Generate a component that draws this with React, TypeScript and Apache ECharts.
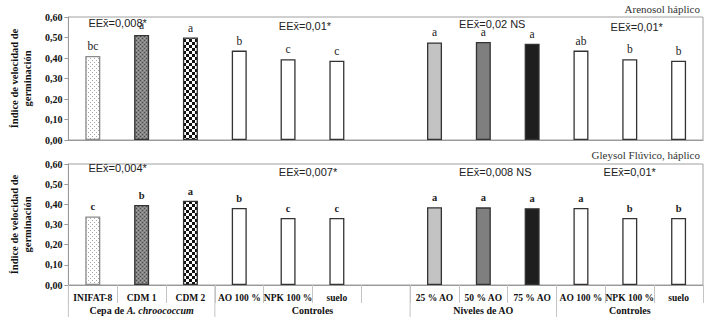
import React, { useEffect, useRef } from 'react';
import * as echarts from 'echarts';

const categories = ['INIFAT-8', 'CDM 1', 'CDM 2', 'AO 100 %', 'NPK 100 %', 'suelo', '', '25 % AO', '50 % AO', '75 % AO', 'AO 100 %', 'NPK 100 %', 'suelo'];
const arenosolValues = [0.41, 0.512, 0.5, 0.436, 0.394, 0.387, null, 0.476, 0.478, 0.47, 0.436, 0.394, 0.387];
const gleysolValues = [0.34, 0.397, 0.418, 0.382, 0.332, 0.332, null, 0.386, 0.385, 0.381, 0.382, 0.332, 0.332];
const arenosolLetters = ['bc', 'a', 'a', 'b', 'c', 'c', '', 'a', 'a', 'a', 'ab', 'b', 'b'];
const gleysolLetters = ['c', 'b', 'a', 'b', 'c', 'c', '', 'a', 'a', 'a', 'a', 'b', 'b'];
const arenosolNotes = ['EEx̄=0,008*', 'EEx̄=0,01*', 'EEx̄=0,02 NS', 'EEx̄=0,01*'];
const gleysolNotes = ['EEx̄=0,004*', 'EEx̄=0,007*', 'EEx̄=0,008 NS', 'EEx̄=0,01*'];
const groupLabels = ['{n|Cepa de }{i|A. chroococcum}', '{n|Controles}', '{n|Niveles de AO}', '{n|Controles}'];
const groupStarts = [0, 3, 7, 10];
const groupEnds = [2, 6, 9, 12];
const fillKinds = ['dots', 'grayDots', 'checker', 'white', 'white', 'white', 'none', 'light', 'mid', 'dark', 'white', 'white', 'white'];
const panelTitles = ['Arenosol háplico', 'Gleysol Flúvico, háplico'];
const yMin = 0;
const yMax = 0.6;
const yStep = 0.1;

const SERIF = '"Liberation Serif", "Times New Roman", serif';
const SANS = '"Liberation Sans", "Open Sans", sans-serif';

function makeCanvas(w: number, h: number, draw: (ctx: CanvasRenderingContext2D) => void) {
  const c = document.createElement('canvas');
  c.width = w;
  c.height = h;
  const ctx = c.getContext('2d')!;
  draw(ctx);
  return c;
}

function buildFill(kind: string): any {
  if (kind === 'dots') {
    const c = makeCanvas(4, 4, (ctx) => {
      ctx.fillStyle = '#ffffff';
      ctx.fillRect(0, 0, 4, 4);
      ctx.fillStyle = '#a8a8a8';
      ctx.fillRect(0, 0, 1, 1);
      ctx.fillRect(2, 2, 1, 1);
    });
    return { image: c, repeat: 'repeat', imageWidth: 4, imageHeight: 4 };
  }
  if (kind === 'grayDots') {
    const c = makeCanvas(4, 4, (ctx) => {
      ctx.fillStyle = '#858585';
      ctx.fillRect(0, 0, 4, 4);
      ctx.fillStyle = '#4a4a4a';
      ctx.fillRect(0, 0, 1, 1);
      ctx.fillRect(2, 2, 1, 1);
      ctx.fillStyle = '#a5a5a5';
      ctx.fillRect(2, 0, 1, 1);
      ctx.fillRect(0, 2, 1, 1);
    });
    return { image: c, repeat: 'repeat', imageWidth: 4, imageHeight: 4 };
  }
  if (kind === 'checker') {
    const c = makeCanvas(6, 6, (ctx) => {
      ctx.fillStyle = '#ffffff';
      ctx.fillRect(0, 0, 6, 6);
      ctx.fillStyle = '#111111';
      ctx.fillRect(0, 0, 3, 3);
      ctx.fillRect(3, 3, 3, 3);
    });
    return { image: c, repeat: 'repeat', imageWidth: 6, imageHeight: 6 };
  }
  if (kind === 'light') return '#c3c3c3';
  if (kind === 'mid') return '#7f7f7f';
  if (kind === 'dark') return '#1e1e1e';
  return '#ffffff';
}

const yLabel = (v: number) => v.toFixed(2).replace('.', ',');

export default function App() {
  const ref = useRef<HTMLDivElement>(null);

  useEffect(() => {
    if (!ref.current) return;
    const chart = echarts.init(ref.current, undefined, { renderer: 'svg' });

    const fills = fillKinds.map(buildFill);
    const makeData = (values: (number | null)[], letters: string[]) =>
      values.map((v, i) => ({
        value: v,
        letter: letters[i],
        itemStyle: {
          color: fills[i],
          borderColor: fillKinds[i] === 'dots' ? '#8a8a8a' : '#333333',
          borderWidth: 1.3,
        },
      }));

    const grids = [
      { left: 53, right: 6, top: 17, height: 123 },
      { left: 53, right: 6, top: 164, height: 121 },
    ];

    const yAxisBase = (gridIndex: number) => ({
      type: 'value',
      gridIndex,
      min: yMin,
      max: yMax,
      interval: yStep,
      name: 'Índice de velocidad de\ngerminación',
      nameLocation: 'middle',
      nameGap: 24,
      nameTextStyle: { fontFamily: SERIF, fontWeight: 'bold', fontSize: 10.5, color: '#111', lineHeight: 13 },
      axisLine: { show: true, lineStyle: { color: '#9a9a9a' } },
      axisTick: { show: true, length: 4, lineStyle: { color: '#9a9a9a' } },
      splitLine: { show: false },
      axisLabel: { formatter: yLabel, fontFamily: SERIF, fontWeight: 'bold', fontSize: 10, color: '#111', margin: 6 },
    });

    const option: any = {
      animation: false,
      backgroundColor: '#ffffff',
      grid: grids.map((g) => ({ ...g, show: true, borderColor: '#a0a0a0', borderWidth: 1, backgroundColor: 'transparent' })),
      xAxis: [
        {
          type: 'category',
          gridIndex: 0,
          data: categories,
          axisLine: { lineStyle: { color: '#9a9a9a' } },
          axisTick: { show: false },
          axisLabel: { show: false },
        },
        {
          type: 'category',
          gridIndex: 1,
          data: categories,
          axisLine: { lineStyle: { color: '#9a9a9a' } },
          axisTick: { show: true, interval: 0, length: 18, lineStyle: { color: '#c4c4c4' } },
          axisLabel: { interval: 0, fontFamily: SERIF, fontWeight: 'bold', fontSize: 9.5, color: '#111', margin: 8 },
        },
      ],
      yAxis: [yAxisBase(0), yAxisBase(1)],
      title: [
        { text: panelTitles[0], right: 9, top: 3, padding: 0, textStyle: { fontFamily: SERIF, fontWeight: 'normal', fontSize: 11, color: '#333' } },
        { text: panelTitles[1], right: 9, top: 149, padding: 0, textStyle: { fontFamily: SERIF, fontWeight: 'normal', fontSize: 11, color: '#333' } },
      ],
      series: [
        {
          type: 'bar',
          xAxisIndex: 0,
          yAxisIndex: 0,
          barWidth: 15,
          data: makeData(arenosolValues, arenosolLetters),
          label: {
            show: true,
            position: 'top',
            distance: 4,
            fontFamily: SERIF,
            fontSize: 11.5,
            color: '#222',
            formatter: (p: any) => p.data.letter,
          },
        },
        {
          type: 'bar',
          xAxisIndex: 1,
          yAxisIndex: 1,
          barWidth: 15,
          data: makeData(gleysolValues, gleysolLetters),
          label: {
            show: true,
            position: 'top',
            distance: 4,
            fontFamily: SERIF,
            fontWeight: 'bold',
            fontSize: 10.5,
            color: '#222',
            formatter: (p: any) => p.data.letter,
          },
        },
      ],
    };
    chart.setOption(option);

    // annotations and group separators, positioned via the axis scale
    const px = (i: number) => chart.convertToPixel({ xAxisIndex: 1 }, i) as number;
    const band = px(1) - px(0);
    const axisY = chart.convertToPixel({ yAxisIndex: 1 }, 0) as number;
    const graphics: any[] = [];

    const noteOffsets = [20, 64, 49, 54];
    const noteYs = [[23, 26, 24, 27], [168, 172, 172, 172]];
    [arenosolNotes, gleysolNotes].forEach((notes, panel) => {
      notes.forEach((t, k) => {
        const x = px(groupStarts[k]) - band / 2 + noteOffsets[k] - (panel === 1 && k === 3 ? 7 : 0);
        graphics.push({
          type: 'text',
          x,
          y: noteYs[panel][k],
          style: { text: t, fontFamily: SANS, fontSize: 11, fill: '#222', verticalAlign: 'middle', align: 'left' },
          z: 10,
        });
      });
    });

    groupStarts.forEach((s, k) => {
      const left = px(s) - band / 2;
      graphics.push({
        type: 'line',
        shape: { x1: left, y1: axisY, x2: left, y2: 317 },
        style: { stroke: '#c4c4c4', lineWidth: 1 },
      });
      const center = (px(s) + px(groupEnds[k])) / 2;
      graphics.push({
        type: 'text',
        x: center,
        y: axisY + 25,
        style: {
          text: groupLabels[k],
          align: 'center',
          verticalAlign: 'middle',
          rich: {
            n: { fontFamily: SERIF, fontWeight: 'bold', fontSize: 10, fill: '#111' },
            i: { fontFamily: SERIF, fontWeight: 'bold', fontStyle: 'italic', fontSize: 10, fill: '#111' },
          },
        },
      });
    });
    chart.setOption({ graphic: graphics });

    return () => chart.dispose();
  }, []);

  return <div ref={ref} style={{ position: 'fixed', left: 0, top: 0, width: 709, height: 317 }} />;
}
